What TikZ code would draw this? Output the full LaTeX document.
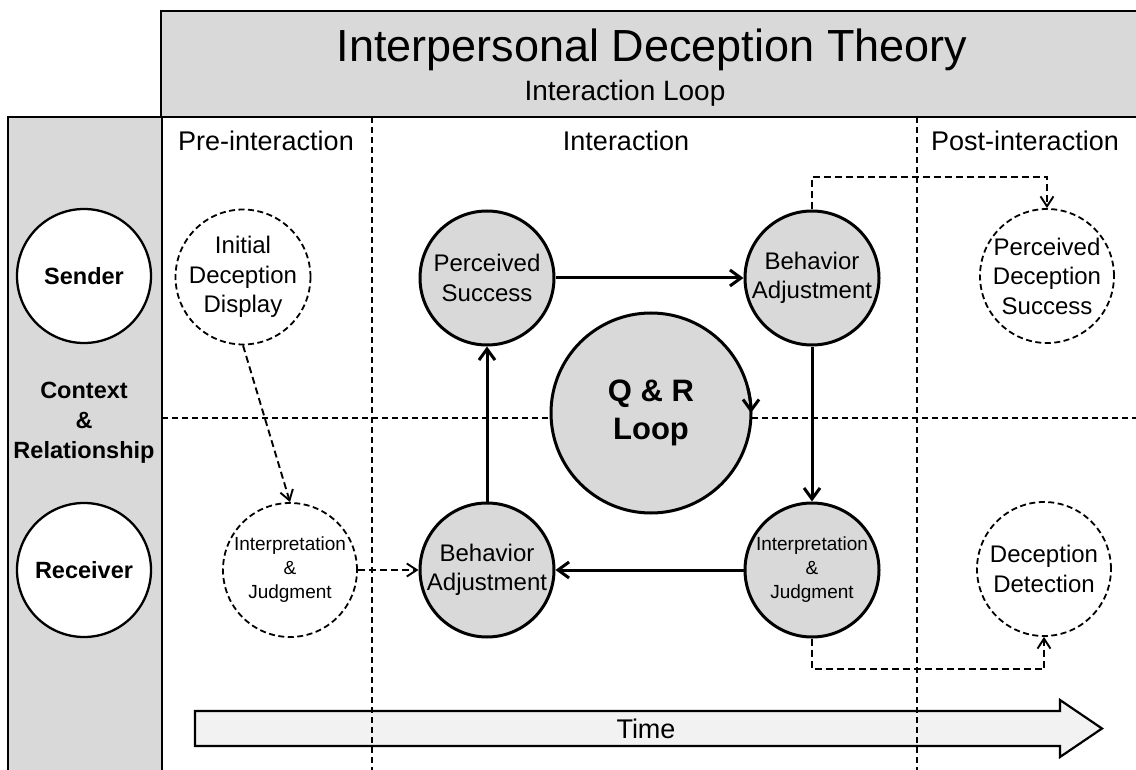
\documentclass[tikz,border=0pt]{standalone}
\usepackage{fontspec}
\setmainfont{Liberation Sans}
\usetikzlibrary{arrows.meta}
\definecolor{boxgray}{RGB}{217,217,217}
\definecolor{timegray}{RGB}{242,242,242}
\begin{document}
\begin{tikzpicture}[x=1pt,y=-1pt,
  frame/.style={line width=2.2pt},
  divider/.style={line width=1.7pt,dash pattern=on 6pt off 4pt},
  solidnode/.style={circle,draw,fill=boxgray,line width=3pt,minimum size=134pt,inner sep=0pt,align=center,font=\fontsize{24}{29.5}\selectfont},
  solidsmall/.style={solidnode,font=\fontsize{19}{24}\selectfont},
  dashnode/.style={circle,draw,fill=white,line width=1.8pt,dash pattern=on 6pt off 3.5pt,minimum size=134pt,inner sep=0pt,align=center,font=\fontsize{24}{29.5}\selectfont},
  dashsmall/.style={dashnode,font=\fontsize{19}{24}\selectfont},
  rolenode/.style={circle,draw,fill=white,line width=2.3pt,minimum size=134pt,inner sep=0pt,font=\bfseries\fontsize{23.5}{28}\selectfont},
  flow/.style={line width=3pt,-{Straight Barb[length=11pt,width=16pt]}},
  dashconn/.style={line width=1.9pt,dash pattern=on 7pt off 4pt,-{Straight Barb[length=10pt,width=13pt]}},
  collabel/.style={anchor=base,inner sep=0pt,font=\fontsize{27}{32}\selectfont}
]
\useasboundingbox (0,0) rectangle (1136,770);
% header
\fill[boxgray] (161,11) rectangle (1136,117);
\draw[frame] (1136,11) -- (161,11) -- (161,117);
\node[anchor=base,inner sep=0pt,font=\fontsize{45}{50}\selectfont] (title) at (652,62) {Interpersonal Deception Theory};
\node[anchor=base,inner sep=0pt,font=\fontsize{28}{32}\selectfont] (subtitle) at (625,101) {Interaction Loop};
% left column
\fill[boxgray] (8,117) rectangle (162,770);
\draw[frame] (8,770) -- (8,117) -- (1136,117);
\draw[frame] (162,117) -- (162,770);
% time arrow
\draw[line width=2.2pt,fill=timegray] (195,711) -- (1060,711) -- (1060,700) -- (1102,728.5) -- (1060,757) -- (1060,746) -- (195,746) -- cycle;
\node[font=\fontsize{27}{32}\selectfont] (time) at (646,728.5) {Time};
% dividers
\draw[divider] (372,117) -- (372,770);
\draw[divider] (917,117) -- (917,770);
\draw[divider] (162,418) -- (1136,418);
% column labels
\node[collabel] (pre) at (266,151) {Pre-interaction};
\node[collabel] (inter) at (626,151) {Interaction};
\node[collabel] (post) at (1025,151) {Post-interaction};
% roles
\node[rolenode] (sender) at (84,276) {Sender};
\node[rolenode] (receiver) at (84,570) {Receiver};
\node[align=center,font=\bfseries\fontsize{23.5}{30}\selectfont] (context) at (84,423) {Context\\\&\\Relationship};
% pre-interaction
\node[dashnode] (idd) at (243,277) {Initial\\Deception\\Display};
\node[dashsmall] (ijl) at (290,570) {Interpretation\\\&\\Judgment};
% interaction
\node[solidnode] (ps) at (487,278) {Perceived\\Success};
\node[solidnode] (bar) at (812,278) {Behavior\\Adjustment};
\node[solidnode] (bal) at (487,570) {Behavior\\Adjustment};
\node[solidsmall] (ijr) at (812,570) {Interpretation\\\&\\Judgment};
\node[circle,draw,fill=boxgray,line width=3pt,minimum size=200pt,inner sep=0pt,align=center,font=\bfseries\fontsize{31}{38}\selectfont] (qr) at (651,413) {Q \& R\\Loop};
% post-interaction
\node[dashnode] (pds) at (1047,276) {Perceived\\Deception\\Success};
\node[dashnode] (dd) at (1044,569) {Deception\\Detection};
% connectors
\draw[dashconn] (idd.south) -- (ijl.north);
\draw[dashconn] (ijl.east) -- (bal.west);
\draw[flow] (bal.north) -- (ps.south);
\draw[flow] (ps.east) -- (bar.west);
\draw[flow] (bar.south) -- (ijr.north);
\draw[flow] (ijr.west) -- (bal.east);
\draw[flow] ([shift={(14:100pt)}]qr.center) arc[start angle=14,end angle=0,radius=100pt];
\coordinate (upc) at (812,177);
\draw[dashconn] (bar.north) -- (upc) -| (pds.north);
\coordinate (downc) at (812,669);
\draw[dashconn] (ijr.south) -- (downc) -| (dd.south);
\end{tikzpicture}
\end{document}
